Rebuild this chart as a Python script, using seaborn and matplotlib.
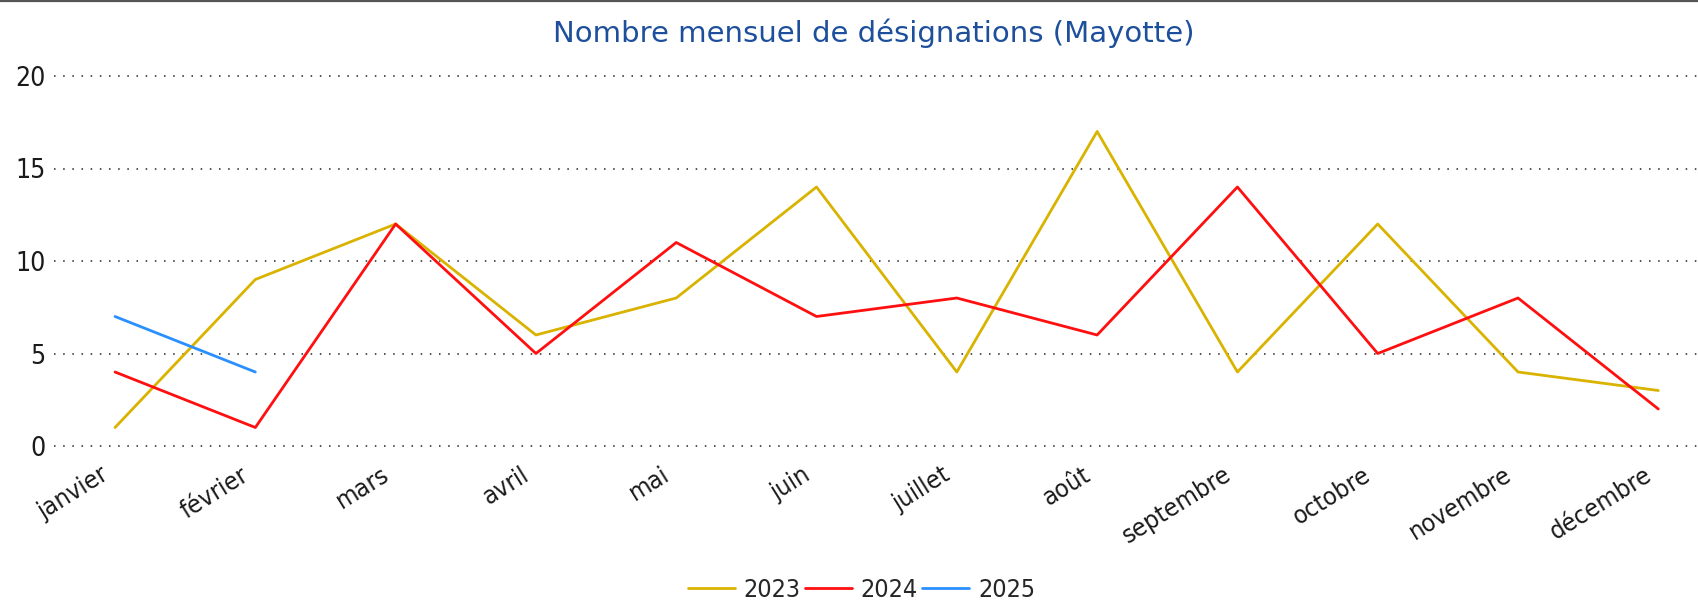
import pandas as pd
import numpy as np
import matplotlib
matplotlib.use('Agg')
import matplotlib.pyplot as plt
import matplotlib.transforms as mtransforms
from matplotlib.lines import Line2D
import seaborn as sns

# Monthly counts
months = ['janvier', 'février', 'mars', 'avril', 'mai', 'juin', 'juillet',
          'août', 'septembre', 'octobre', 'novembre', 'décembre']
vals_2023 = [1, 9, 12, 6, 8, 14, 4, 17, 4, 12, 4, 3]
vals_2024 = [4, 1, 12, 5, 11, 7, 8, 6, 14, 5, 8, 2]
vals_2025 = [7, 4]
years = ['2023', '2024', '2025']
colors = {'2023': '#d9b300', '2024': '#ff0f0f', '2025': '#2a8fff'}

rows = []
for y, vals in zip(years, [vals_2023, vals_2024, vals_2025]):
    for i, v in enumerate(vals):
        rows.append({'mois': i, 'annee': y, 'n': v})
df = pd.DataFrame(rows)

sns.set_style('white')
plt.rcParams['font.family'] = ['DejaVu Sans']
plt.rcParams['font.stretch'] = 'condensed'

fig = plt.figure(figsize=(16.99, 6.0), dpi=100)
# y=0 sits at 446 px, y=20 at 76 px; pad the limits a little so the edge grid lines are not clipped
pad = 0.3
unit = 370 / 20
bottom_px = 446 + pad * unit
height_px = 370 + 2 * pad * unit
ax = fig.add_axes([54 / 1699, 1 - bottom_px / 600, 1 - 54 / 1699, height_px / 600])

sns.lineplot(data=df, x='mois', y='n', hue='annee', palette=colors,
             linewidth=2.0, ax=ax, legend=False)

ax.set_xlim(-0.435, 11.29)
ax.set_ylim(-pad, 20 + pad)
ax.set_yticks([0, 5, 10, 15, 20])
ax.set_xticks(range(12))
ax.set_xticklabels(months, rotation=32, ha='right', rotation_mode='anchor')
ax.tick_params(axis='both', length=0, colors='#1a1a1a')
ax.tick_params(axis='y', pad=6, labelsize=19)
ax.tick_params(axis='x', pad=8, labelsize=18.3)
# nudge the month labels to the left of their tick
shift = mtransforms.ScaledTranslation(-15 / 100, 0, fig.dpi_scale_trans)
for lab in ax.get_xticklabels():
    lab.set_transform(lab.get_transform() + shift)
ax.set_xlabel('')
ax.set_ylabel('')
ax.grid(axis='y', color='#222222', linestyle=(0, (1, 5)), linewidth=1.1)
ax.grid(axis='x', visible=False)
for s in ax.spines.values():
    s.set_visible(False)

fig.text(0.514, 1 - 33 / 600, 'Nombre mensuel de désignations (Mayotte)',
         ha='center', va='center', fontsize=21, color='#1d4f9c',
         fontstretch='normal')

# top frame line
fig.add_artist(Line2D([0, 1], [0.998, 0.998], color='#555555', linewidth=1.6,
                      transform=fig.transFigure))

handles = [Line2D([], [], color=colors[y], linewidth=2.0) for y in years]
fig.legend(handles, years, loc='center', bbox_to_anchor=(0.507, 0.017),
           ncol=3, frameon=False, fontsize=18, handlelength=1.9,
           handletextpad=0.35, columnspacing=0.15)

fig.savefig('out.png', dpi=100)
